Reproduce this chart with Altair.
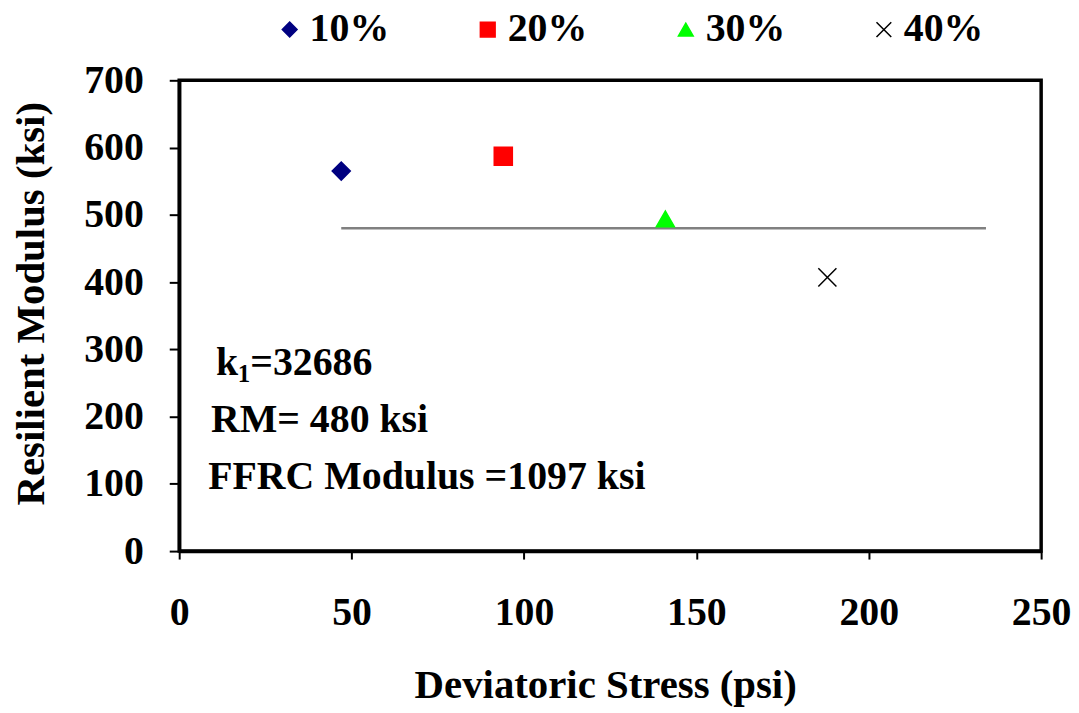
import altair as alt
import pandas as pd

FONT = "Liberation Serif"

# ---- data ----
series = ["10%", "20%", "30%", "40%"]
stress = [47, 94, 141, 188]
modulus = [565, 587, 494, 407]

fit_stress = [47, 234]
fit_modulus = [480, 480]

x_ticks = [0, 50, 100, 150, 200, 250]
y_ticks = [0, 100, 200, 300, 400, 500, 600, 700]

note_text = ["k", "=32686", "RM= 480 ksi", "FFRC Modulus =1097 ksi"]
note_x = [10.7, 20.6, 9.2, 8.4]
note_y = [262, 262, 177, 93]
sub_text = ["1"]
sub_x = [17.0]
sub_y = [251]

# ---- styles ----
colors = ["#000080", "#FF0000", "#00FF00", "#000000"]
shapes = ["diamond", "square", "triangle-up", "M-1,-1L1,1M1,-1L-1,1"]

pts = pd.DataFrame({"x": stress, "y": modulus, "series": series})
fit = pd.DataFrame({"x": fit_stress, "y": fit_modulus})
notes = pd.DataFrame({"x": note_x, "y": note_y, "t": note_text})
subs = pd.DataFrame({"x": sub_x, "y": sub_y, "t": sub_text})


def xenc():
    return alt.X(
        "x:Q",
        scale=alt.Scale(domain=[0, 250], nice=False),
        axis=alt.Axis(
            values=x_ticks, title="Deviatoric Stress (psi)", grid=False,
            domainColor="black", domainWidth=3.5, tickColor="black",
            tickWidth=2, tickSize=8, labelFont=FONT, labelFontSize=40,
            labelFontWeight="bold", labelColor="black", labelPadding=34,
            labelFlush=False, labelOverlap=False, titleFont=FONT,
            titleFontSize=41, titleFontWeight="bold", titleColor="black",
            titlePadding=33, titleX=428,
        ),
    )


def yenc():
    return alt.Y(
        "y:Q",
        scale=alt.Scale(domain=[0, 700], nice=False),
        axis=alt.Axis(
            values=y_ticks, title="Resilient Modulus (ksi)", grid=False,
            domainColor="black", domainWidth=3.5, tickColor="black",
            tickWidth=2, tickSize=10, labelFont=FONT, labelFontSize=40,
            labelFontWeight="bold", labelColor="black", labelPadding=26,
            labelOverlap=False, titleFont=FONT, titleFontSize=41,
            titleFontWeight="bold", titleColor="black", titlePadding=31,
            titleY=224,
        ),
    )


legend = alt.Legend(
    orient="none", legendX=91, legendY=-71, direction="horizontal",
    title=None, labelFont=FONT, labelFontSize=40, labelFontWeight="bold",
    labelColor="black", symbolSize=220, symbolStrokeWidth=1.5,
    labelOffset=0, columnPadding=79,
)

points = alt.Chart(pts).mark_point(strokeWidth=1.5, opacity=1, size=330).encode(
    x=xenc(),
    y=yenc(),
    fill=alt.Fill("series:N", scale=alt.Scale(domain=series, range=colors), legend=legend),
    stroke=alt.Stroke("series:N", scale=alt.Scale(domain=series, range=colors), legend=legend),
    shape=alt.Shape("series:N", scale=alt.Scale(domain=series, range=shapes), legend=legend),
)

line = alt.Chart(fit).mark_line(color="#808080", strokeWidth=2.5).encode(
    x=xenc(), y=yenc()
)

text = alt.Chart(notes).mark_text(
    align="left", baseline="alphabetic", font=FONT, fontSize=40,
    fontWeight="bold", color="black",
).encode(x=xenc(), y=yenc(), text="t:N")

subtext = alt.Chart(subs).mark_text(
    align="left", baseline="alphabetic", font=FONT, fontSize=25,
    fontWeight="bold", color="black",
).encode(x=xenc(), y=yenc(), text="t:N")

chart = (
    alt.layer(line, points, text, subtext)
    .properties(
        width=866, height=473,
        padding={"left": 172, "top": 71, "right": 30, "bottom": 158},
        autosize=alt.AutoSizeParams(type="none"),
        background="white",
    )
    .configure_view(stroke="black", strokeWidth=3.5)
)

chart.save("out.html", embed_options={"renderer": "svg", "actions": False})
